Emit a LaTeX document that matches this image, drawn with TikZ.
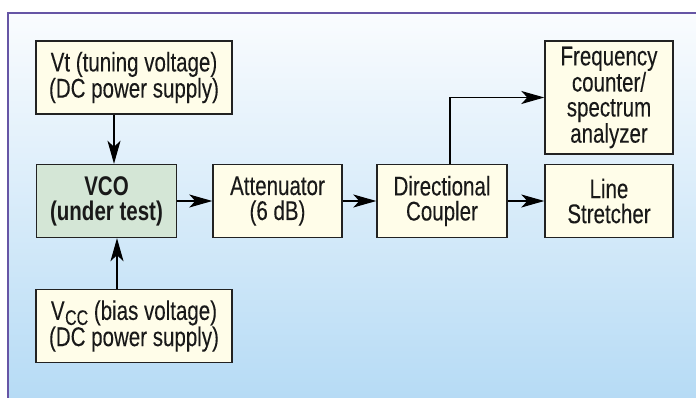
\documentclass[tikz,border=0pt]{standalone}
\usepackage{fontspec}
\setmainfont{Liberation Sans}[FakeStretch=0.76, UprightFeatures={FakeBold=0.12}]
\usetikzlibrary{arrows.meta,calc}
\definecolor{bgtop}{HTML}{FAFCFE}
\definecolor{bgbot}{HTML}{B6DBF5}
\definecolor{framec}{HTML}{6655A5}
\definecolor{creamc}{HTML}{FFFDE9}
\definecolor{greenc}{HTML}{D4E6D6}
\definecolor{edgec}{HTML}{222222}
\tikzset{
  blk/.style={draw=edgec, line width=1.4pt, fill=creamc, align=center,
    inner sep=0pt, font=\fontsize{27}{25}\selectfont, text=black!90},
  arr/.style={draw=black, line width=1.2pt, -{Stealth[length=23pt,width=13pt,inset=6pt]}}
}
\begin{document}
\begin{tikzpicture}[x=1pt,y=-1pt]
\useasboundingbox (0,0) rectangle (696,398);
\fill[white] (0,0) rectangle (696,398);
\shade[top color=bgtop, bottom color=bgbot] (8,13) rectangle (697,399);
\draw[framec, line width=2pt] (8,399) -- (8,13) -- (697,13);

\node[blk, minimum width=196pt, minimum height=73pt] (vt) at (134,77.5)
  {Vt (tuning voltage)\\(DC power supply)};
\node[blk, fill=greenc, minimum width=140pt, minimum height=73pt, font=\fontsize{27}{25}\selectfont\bfseries] (vco) at (106.5,201)
  {VCO\\(under test)};
\node[blk, minimum width=129pt, minimum height=73pt] (att) at (277.5,201)
  {Attenuator\\(6 dB)};
\node[blk, minimum width=196pt, minimum height=73pt] (vcc) at (134,326)
  {V\kern0.5pt\raisebox{-5pt}{\fontsize{21}{21}\selectfont CC} (bias voltage)\\(DC power supply)};
\node[blk, minimum width=130pt, minimum height=73pt] (dc) at (442,201)
  {Directional\\Coupler};
\node[blk, minimum width=128pt, minimum height=113pt] (fc) at (609,97.5)
  {Frequency\\counter/\\spectrum\\analyzer};
\node[blk, minimum width=128pt, minimum height=73pt] (ls) at (609,201)
  {Line\\Stretcher};

\draw[arr] ([xshift=-20pt]vt.south) -- ([xshift=7.5pt]vco.north);
\draw[arr] ([xshift=-17pt]vcc.north) -- ([xshift=10.5pt]vco.south);
\draw[arr] (vco.east) -- (att.west);
\draw[arr] (att.east) -- (dc.west);
\draw[arr] (dc.east) -- (ls.west);
\draw[arr] ([xshift=8pt]dc.north) |- (fc.west);
\end{tikzpicture}
\end{document}
